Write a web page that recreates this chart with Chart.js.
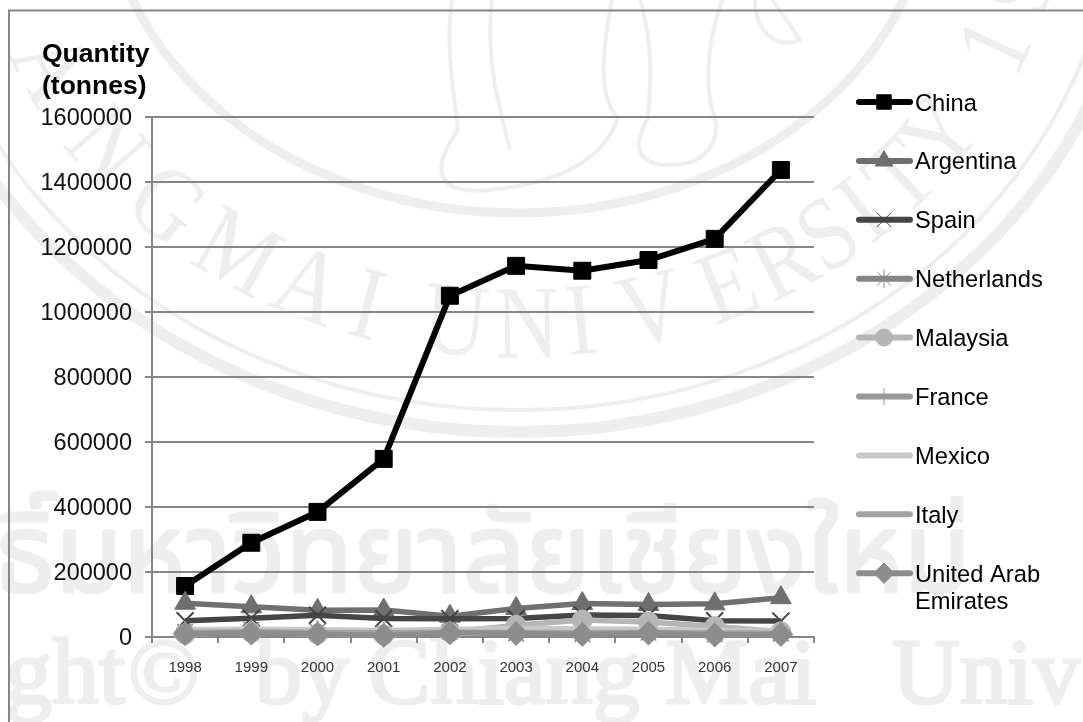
<!DOCTYPE html>
<html>
<head>
<meta charset="utf-8">
<title>Quantity (tonnes)</title>
<script src="https://cdn.jsdelivr.net/npm/chart.js@4/dist/chart.umd.js"></script>
<style>
    html, body { margin: 0; padding: 0; background: #fff; }
    canvas { display: block; }
</style>
</head>
<body>
<canvas id="quantityChart" width="1083" height="722"></canvas>
<script>
const years = ['1998', '1999', '2000', '2001', '2002', '2003', '2004', '2005', '2006', '2007'];

const china       = [157000, 290000, 385000, 548000, 1050000, 1142000, 1127000, 1160000, 1225000, 1437000];
const argentina   = [104000, 93000, 82000, 83000, 64000, 88000, 103000, 100000, 102000, 121000];
const spain       = [50000, 58000, 67000, 57000, 56000, 57000, 68000, 66000, 50000, 49000];
const netherlands = [16000, 22000, 17000, 12000, 16000, 11000, 9000, 13000, 8000, 10000];
const malaysia    = [9000, 14000, 9000, 6000, 15000, 36000, 52000, 46000, 32000, 16000];
const france      = [18000, 20000, 18000, 16000, 18000, 17000, 17000, 18000, 15000, 14000];
const mexico      = [22000, 24000, 22000, 20000, 23000, 26000, 25000, 24000, 20000, 18000];
const italy       = [14000, 16000, 14000, 13000, 15000, 14000, 13000, 14000, 12000, 12000];
const uae         = [10000, 12000, 9000, 5000, 13000, 11000, 8000, 12000, 6000, 8000];

const countries = ['China', 'Argentina', 'Spain', 'Netherlands', 'Malaysia', 'France', 'Mexico', 'Italy', ['United Arab', 'Emirates']];
const quantities = [china, argentina, spain, netherlands, malaysia, france, mexico, italy, uae];
const lineColors = ['#000000', '#6f6f6f', '#454545', '#858585', '#b5b5b5', '#999999', '#c8c8c8', '#a3a3a3', '#8d8d8d'];
const markers = ['rect', 'triangle', 'crossRot', 'star', 'circle', 'cross', false, false, 'rectRot'];
const markerSizes = [12, 12, 12, 11, 10, 10, 0, 0, 12];
const markerWidths = [1, 1, 2, 1.5, 1, 1.5, 0, 0, 1];

const yTicks = [0, 200000, 400000, 600000, 800000, 1000000, 1200000, 1400000, 1600000];
const titleLines = ['Quantity', '(tonnes)'];

const sans = '"Liberation Sans", Arial, sans-serif';
const AXIS_GREY = '#868686';
const STAMP_GREY = '#eeeeee';

// letters of the seal ring and where each one sits on the ellipse (degrees)
const ringLetters = ['A', 'N', 'G', 'M', 'A', 'I', 'U', 'N', 'I', 'V', 'E', 'R', 'S', 'I', 'T', 'Y', '1', '9'];
const ringAngles = [155, 143, 133, 123, 114, 107, 97, 89, 83, 75, 66, 59, 53, 48, 42, 35, 22, 14];

const bottomWords = [['ght', 5], ['\u00a9', 128], ['by', 255], ['Chiang', 368], ['Mai', 665], ['Univ', 892]];

function ellipse(ctx, rx, ry, width) {
    ctx.lineWidth = width;
    ctx.beginPath();
    ctx.ellipse(518, -120, rx, ry, 0, 0, Math.PI * 2);
    ctx.stroke();
}

// faint university seal and lettering behind the plot
const stampPlugin = {
    id: 'stamp',
    beforeDraw(chart) {
        const ctx = chart.ctx;
        ctx.save();
        ctx.strokeStyle = STAMP_GREY;
        ctx.fillStyle = STAMP_GREY;

        ellipse(ctx, 625, 552, 12);
        ellipse(ctx, 600, 530, 4);
        ellipse(ctx, 413, 333, 9);

        ctx.font = '104px "Liberation Serif", serif';
        ctx.textAlign = 'center';
        ctx.textBaseline = 'middle';
        ringLetters.forEach((ch, i) => {
            const t = ringAngles[i] * Math.PI / 180;
            const tangent = Math.atan2(450 * Math.cos(t), -520 * Math.sin(t));
            ctx.save();
            ctx.translate(518 + 520 * Math.cos(t), -120 + 450 * Math.sin(t));
            ctx.rotate(tangent + Math.PI);
            ctx.scale(0.85, 1);
            ctx.fillText(ch, 0, 0);
            ctx.restore();
        });

        // elephant legs and ear
        ctx.lineWidth = 4;
        ctx.beginPath();
        ctx.moveTo(452, 0); ctx.bezierCurveTo(445, 50, 455, 100, 458, 130);
        ctx.bezierCurveTo(430, 170, 435, 195, 490, 190);
        ctx.bezierCurveTo(540, 185, 600, 170, 618, 118);
        ctx.bezierCurveTo(600, 100, 600, 60, 612, 0);
        ctx.moveTo(492, 0); ctx.bezierCurveTo(485, 60, 500, 110, 510, 150);
        ctx.moveTo(640, 0); ctx.bezierCurveTo(655, 50, 650, 90, 648, 118);
        ctx.bezierCurveTo(630, 150, 640, 165, 670, 165);
        ctx.bezierCurveTo(715, 165, 722, 130, 712, 110);
        ctx.bezierCurveTo(705, 80, 708, 40, 722, 0);
        ctx.moveTo(755, 0); ctx.bezierCurveTo(755, 30, 775, 50, 800, 40);
        ctx.bezierCurveTo(790, 25, 780, 10, 772, 0);
        ctx.stroke();

        ctx.textAlign = 'left';
        ctx.textBaseline = 'alphabetic';
        ctx.lineJoin = 'round';
        ctx.lineWidth = 3;
        ctx.font = '110px "Noto Sans", "Noto Sans Thai", sans-serif';
        ctx.fillText('ธิ์มหาวิทยาลัยเชียงใหม่', -5, 592);
        ctx.strokeText('ธิ์มหาวิทยาลัยเชียงใหม่', -5, 592);
        ctx.font = '94px "Liberation Serif", serif';
        bottomWords.forEach(([word, x]) => {
            ctx.fillText(word, x, 703);
            ctx.strokeText(word, x, 703);
        });
        ctx.restore();
    }
};

// frame, two-line axis heading and the legend column
const framePlugin = {
    id: 'frame',
    afterDraw(chart) {
        const ctx = chart.ctx;
        ctx.save();

        ctx.strokeStyle = AXIS_GREY;
        ctx.lineWidth = 2;
        ctx.beginPath();
        ctx.moveTo(9, 722); ctx.lineTo(9, 10.5); ctx.lineTo(1083, 10.5);
        ctx.stroke();

        ctx.fillStyle = '#000';
        ctx.textAlign = 'left';
        ctx.textBaseline = 'middle';
        ctx.font = 'bold 26.5px ' + sans;
        titleLines.forEach((line, i) => ctx.fillText(line, 42, 55 + i * 32));

        chart.data.datasets.forEach((ds, i) => {
            const y = 102 + i * 58.9;
            ctx.strokeStyle = ds.borderColor;
            ctx.lineWidth = 6;
            ctx.lineCap = 'round';
            ctx.beginPath();
            ctx.moveTo(859, y); ctx.lineTo(910, y);
            ctx.stroke();

            if (ds.pointStyle) {
                ctx.fillStyle = ds.borderColor;
                ctx.strokeStyle = ds.borderColor;
                ctx.lineCap = 'butt';
                ctx.lineWidth = Math.min(ds.pointBorderWidth, 1);
                Chart.helpers.drawPoint(ctx, {
                    pointStyle: ds.pointStyle,
                    radius: ds.pointRadius * 0.85,
                    rotation: 0,
                    borderWidth: ctx.lineWidth
                }, 884, y);
            }

            ctx.fillStyle = '#000';
            ctx.font = '23.7px ' + sans;
            [].concat(ds.label).forEach((line, k) => ctx.fillText(line, 915, y + 2 + k * 27));
        });
        ctx.restore();
    }
};

new Chart(document.getElementById('quantityChart'), {
    type: 'line',
    data: {
        labels: years,
        datasets: quantities.map((values, i) => ({
            label: countries[i],
            data: values,
            borderColor: lineColors[i],
            backgroundColor: lineColors[i],
            borderWidth: i === 0 ? 6 : 5.5,
            tension: 0,
            fill: false,
            pointStyle: markers[i],
            pointRadius: markerSizes[i],
            pointHoverRadius: markerSizes[i],
            pointBorderWidth: markerWidths[i],
            pointBorderColor: lineColors[i],
            pointBackgroundColor: lineColors[i],
            order: quantities.length - i,
            clip: false
        }))
    },
    plugins: [stampPlugin, framePlugin],
    options: {
        responsive: false,
        animation: false,
        layout: { padding: { top: 117, right: 269, left: 0, bottom: 0 } },
        plugins: {
            legend: { display: false },
            title: { display: false },
            tooltip: { enabled: false }
        },
        scales: {
            x: {
                offset: true,
                afterFit: (axis) => { axis.height = 85; },
                border: { color: AXIS_GREY, width: 2 },
                grid: { display: true, drawOnChartArea: false, offset: true, color: AXIS_GREY, lineWidth: 2, tickLength: 6 },
                ticks: { color: '#333', padding: 16, maxRotation: 0, font: { family: sans, size: 15 } }
            },
            y: {
                min: 0,
                max: 1600000,
                afterFit: (axis) => { axis.width = 152; },
                afterBuildTicks: (axis) => { axis.ticks = yTicks.map((value) => ({ value })); },
                border: { color: AXIS_GREY, width: 2 },
                grid: { color: AXIS_GREY, lineWidth: 2, tickLength: 7 },
                ticks: { color: '#111', padding: 13, labelOffset: 2, font: { family: sans, size: 23.5 }, callback: (v) => String(v) }
            }
        }
    }
});
</script>
</body>
</html>
